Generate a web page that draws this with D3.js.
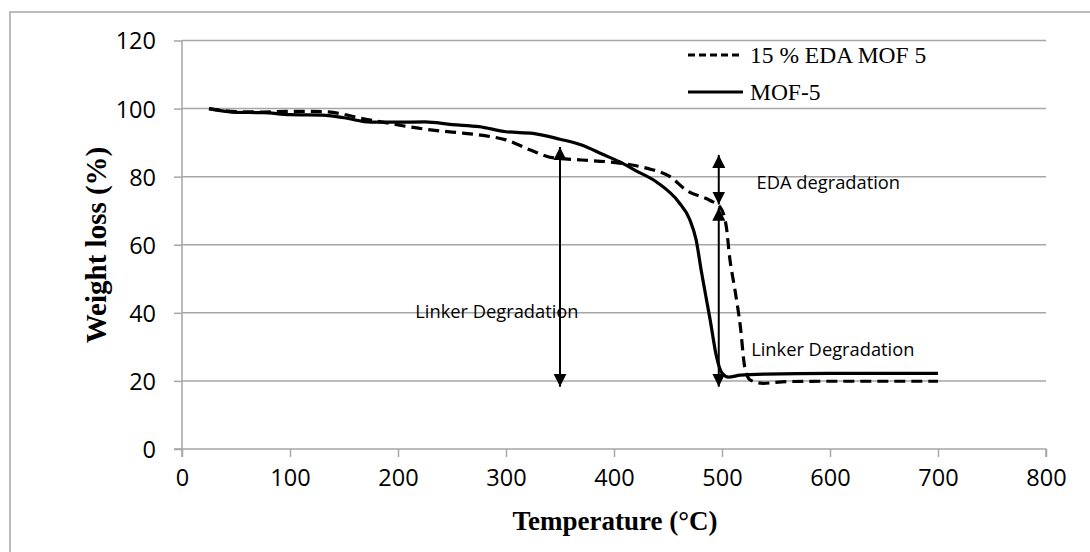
<!DOCTYPE html>
<html>
<head>
<meta charset="utf-8">
<script src="https://cdn.jsdelivr.net/npm/d3@7"></script>
<style>
  body { margin: 0; background: #fff; }
  .tick text { font-family: 'Open Sans', sans-serif; font-size: 23.5px; fill: #000; }
  .axis-name { font-family: 'Liberation Serif', 'Times New Roman', serif; font-weight: bold; }
  .note { font-family: 'Open Sans', sans-serif; font-size: 18.3px; }
  .legend-text { font-family: 'Liberation Serif', 'Times New Roman', serif; font-size: 23.5px; }
</style>
</head>
<body>
<div id="chart"></div>
<script>
// Data
const mofTemp = [25, 40, 50, 75, 100, 130, 150, 175, 200, 225, 250, 275, 300, 325, 350, 370, 390, 405, 420, 440, 460, 470, 476, 481, 489, 495, 500, 506, 517, 540, 600, 700];
const mofWeight = [100, 99.2, 98.9, 98.8, 98.2, 98.1, 97.3, 96.0, 96.0, 96.1, 95.3, 94.7, 93.2, 92.7, 91.0, 89.3, 86.5, 84.4, 81.8, 78.3, 72.5, 67.5, 61.5, 52, 38, 27, 22.3, 21.1, 21.7, 22, 22.2, 22.2];

const edaTemp = [25, 50, 75, 100, 130, 150, 165, 190, 211, 240, 260, 285, 300, 322, 344, 370, 405, 430, 452, 467, 489, 498, 504, 507, 512, 517, 521, 526, 538, 560, 600, 700];
const edaWeight = [100, 99.1, 99, 99.2, 99.1, 98.3, 97.2, 95.8, 94.6, 93.4, 92.8, 91.8, 90.8, 87.9, 85.5, 84.9, 84.0, 82.5, 80, 76, 73, 71.2, 65.3, 56.5, 46.7, 36, 24.2, 20.3, 19.3, 19.8, 19.9, 19.9];

const xTicks = [0, 100, 200, 300, 400, 500, 600, 700, 800];
const yTicks = [0, 20, 40, 60, 80, 100, 120];

const seriesNames = ['15 % EDA MOF 5', 'MOF-5'];

// double arrows: temperature, top and bottom weight
const arrows = [
  { t: 350, y1: 88.7, y2: 18.3 },
  { t: 497, y1: 86.4, y2: 71.8 },
  { t: 497, y1: 70.9, y2: 18.3 }
];
const notes = [
  { label: 'Linker Degradation', t: 216, w: 40.5 },
  { label: 'EDA degradation', t: 532, w: 78.2 },
  { label: 'Linker Degradation', t: 527, w: 29.1 }
];

const W = 1090, H = 552;
const margin = { l: 182, r: 44, t: 40.5, b: 103 };
const width = W - margin.l - margin.r;
const height = H - margin.t - margin.b;

const root = d3.select('#chart').append('svg').attr('width', W).attr('height', H);

// outer chart border
root.append('rect')
  .attr('x', 10).attr('y', 12)
  .attr('width', W + 20).attr('height', H + 20)
  .attr('fill', 'none').attr('stroke', '#a6a6a6').attr('stroke-width', 1.5);

const svg = root.append('g').attr('transform', `translate(${margin.l}, ${margin.t})`);

const x = d3.scaleLinear([0, 800], [0, width]);
const y = d3.scaleLinear([0, 120], [height, 0]);

// gridlines
svg.append('g')
  .selectAll('line')
  .data(yTicks.slice(1))
  .join('line')
  .attr('x1', 0).attr('x2', width)
  .attr('y1', (d) => y(d)).attr('y2', (d) => y(d))
  .attr('stroke', '#a6a6a6').attr('stroke-width', 1.5);

// axes
const xAxis = svg.append('g')
  .attr('transform', `translate(0, ${height})`)
  .call(d3.axisBottom(x).tickValues(xTicks).tickSize(8).tickSizeOuter(8).tickPadding(12));
const yAxis = svg.append('g')
  .call(d3.axisLeft(y).tickValues(yTicks).tickSize(8).tickSizeOuter(0).tickPadding(18));
[xAxis, yAxis].forEach((a) => {
  a.selectAll('.domain').attr('stroke', '#a6a6a6').attr('stroke-width', 1.5);
  a.selectAll('.tick line').attr('stroke', '#a6a6a6').attr('stroke-width', 1.5);
});
xAxis.select('.domain').attr('d', `M-8,0H${width}V8`);
yAxis.select('.domain').attr('d', `M0,0V${height + 8}`);
yAxis.selectAll('.tick text').attr('dy', '0.36em');

// lines
const line = d3.line().curve(d3.curveMonotoneX).x((d) => x(d[0])).y((d) => y(d[1]));

svg.append('path')
  .datum(d3.zip(edaTemp, edaWeight))
  .attr('d', line)
  .attr('fill', 'none').attr('stroke', '#000').attr('stroke-width', 3.2)
  .attr('stroke-dasharray', '11,6');

svg.append('path')
  .datum(d3.zip(mofTemp, mofWeight))
  .attr('d', line)
  .attr('fill', 'none').attr('stroke', '#000').attr('stroke-width', 3.2);

// arrow heads
const defs = root.append('defs');
defs.append('marker')
  .attr('id', 'head')
  .attr('viewBox', '0 0 14 13')
  .attr('refX', 13).attr('refY', 6.5)
  .attr('markerWidth', 14).attr('markerHeight', 13)
  .attr('markerUnits', 'userSpaceOnUse')
  .attr('orient', 'auto-start-reverse')
  .append('path')
  .attr('d', 'M0,0L13,6.5L0,13Z')
  .attr('fill', '#000');

svg.append('g')
  .selectAll('line')
  .data(arrows)
  .join('line')
  .attr('x1', (d) => x(d.t)).attr('x2', (d) => x(d.t))
  .attr('y1', (d) => y(d.y1)).attr('y2', (d) => y(d.y2))
  .attr('stroke', '#000').attr('stroke-width', 2)
  .attr('marker-start', 'url(#head)')
  .attr('marker-end', 'url(#head)');

svg.append('g')
  .selectAll('text')
  .data(notes)
  .join('text')
  .attr('class', 'note')
  .attr('x', (d) => x(d.t)).attr('y', (d) => y(d.w))
  .attr('dy', '0.35em')
  .text((d) => d.label);

// legend
const legend = root.append('g').attr('transform', 'translate(688, 0)');
legend.selectAll('line')
  .data(seriesNames)
  .join('line')
  .attr('x1', 0).attr('x2', 55)
  .attr('y1', (d, i) => 55 + i * 37).attr('y2', (d, i) => 55 + i * 37)
  .attr('stroke', '#000').attr('stroke-width', 3.2)
  .attr('stroke-dasharray', (d, i) => (i === 0 ? '7,4' : null));
legend.selectAll('text')
  .data(seriesNames)
  .join('text')
  .attr('class', 'legend-text')
  .attr('x', 62)
  .attr('y', (d, i) => 55 + i * 37)
  .attr('dy', '0.33em')
  .text((d) => d);

// x-axis name
root.append('text')
  .attr('class', 'axis-name')
  .attr('x', 615).attr('y', 530)
  .attr('text-anchor', 'middle')
  .style('font-size', '27px')
  .text('Temperature (°C)');
// y-axis name
root.append('text')
  .attr('class', 'axis-name')
  .attr('transform', 'translate(106, 245) rotate(-90)')
  .attr('text-anchor', 'middle')
  .style('font-size', '29px')
  .text('Weight loss (%)');
</script>
</body>
</html>
